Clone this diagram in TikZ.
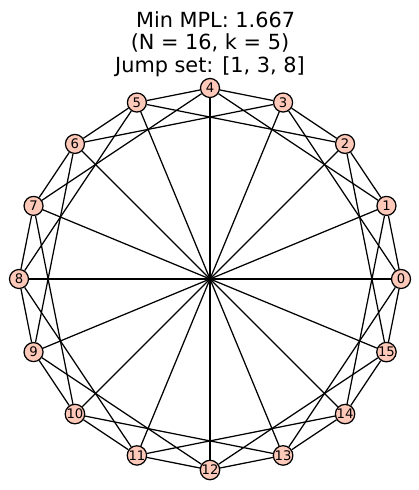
\documentclass[tikz,border=0pt]{standalone}
\usepackage{fontspec}
\setmainfont{DejaVu Sans}
\definecolor{nodefill}{RGB}{255,201,185}
\tikzset{
  vertex/.style={circle, draw=black, line width=0.9pt, fill=nodefill,
    minimum size=13.7pt, inner sep=0pt, font=\fontsize{9.5}{11}\selectfont},
  edge/.style={black, line width=0.9pt}
}
\begin{document}
\begin{tikzpicture}[x=0.72pt, y=0.72pt]
    \useasboundingbox (0,0) rectangle (419,490);

    % Titre
    \node[font=\fontsize{15}{16.3}\selectfont, align=center, anchor=north, inner sep=0pt]
        (titre) at (210,479) {\hspace*{8pt}Min MPL: 1.667\\(N = 16, k = 5)\hspace*{6pt}\\Jump set: [1, 3, 8]};

    % Sommets sur le cercle
    \begin{scope}[shift={(210,211)}]
        \foreach \i in {0,...,15}
            \node[vertex] (v\i) at (22.5*\i:191) {\i};
    \end{scope}

    % Sauts 1 et 3
    \foreach \i in {0,...,15} {
        \pgfmathtruncatemacro{\a}{mod(\i+1,16)}
        \pgfmathtruncatemacro{\b}{mod(\i+3,16)}
        \draw[edge] (v\i) -- (v\a);
        \draw[edge] (v\i) -- (v\b);
    }

    % Saut 8 (diametres)
    \foreach \i [evaluate=\i as \j using int(\i+8)] in {0,...,7}
        \draw[edge] (v\i) -- (v\j);
\end{tikzpicture}
\end{document}
